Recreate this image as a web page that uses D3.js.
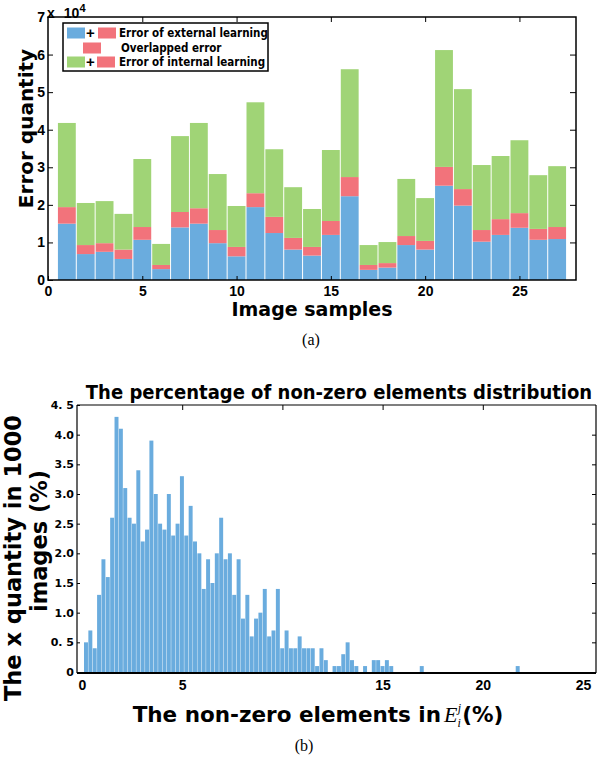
<!DOCTYPE html>
<html>
<head>
<meta charset="utf-8">
<script src="https://cdn.jsdelivr.net/npm/d3@7"></script>
<style>
  body { margin: 0; background: #fff; }
  svg { display: block; }
</style>
</head>
<body>
<svg id="fig" width="608" height="761"></svg>
<script>
'use strict'

// ---- (a) error quantity per image sample (stacked) ----
const samples = d3.range(1, 28)
const externalOnly = [15000, 6900, 7500, 5600, 10700, 2900, 14000, 15000, 9800, 6300, 19400, 12500, 8100, 6500,
  12000, 22300, 2700, 3300, 9300, 8100, 25100, 19800, 10200, 12000, 13900, 10700, 10900]
const overlapped = [4400, 2400, 2300, 2500, 3400, 1100, 4100, 4100, 3500, 2500, 3700, 4300, 3100, 2300,
  3700, 5100, 1300, 1200, 2400, 2300, 5000, 4400, 3100, 4200, 3900, 2900, 3200]
const internalOnly = [22400, 11200, 11200, 9500, 18100, 5600, 20200, 22700, 14900, 10900, 24200, 18000, 13500, 10100,
  18900, 28700, 5300, 5600, 15200, 11400, 31100, 26600, 17300, 16800, 19400, 14300, 16200]
const errTicks = [0, 10000, 20000, 30000, 40000, 50000, 60000, 70000]
const sampleTicks = [0, 5, 10, 15, 20, 25]

// ---- (b) histogram of non-zero percentage ----
const binStart = 0.1
const binWidth = 0.2176
const pctValues = [
  0.5, 0.7, 0.4, 1.3, 1.9, 1.6, 2.6, 4.3, 4.1, 3.1,
  2.6, 2.5, 3.4, 2.2, 2.4, 3.9, 3.0, 2.5, 2.4, 3.0,
  2.3, 2.5, 3.3, 2.3, 2.8, 2.2, 2.0, 1.4, 1.9, 1.5,
  2.0, 2.6, 1.9, 2.0, 1.3, 1.9, 0.9, 1.3, 0.6, 0.9,
  1.0, 1.4, 0.6, 0.7, 1.4, 0.4, 0.7, 0.4, 0.4, 0.6,
  0.4, 0.4, 0.4, 0.1, 0.4, 0.2, 0, 0.1, 0.1, 0.3,
  0.5, 0.2, 0.1, 0, 0.1, 0, 0.2, 0.2, 0.1, 0.2,
  0.1, 0, 0, 0, 0, 0, 0, 0.1, 0, 0,
  0, 0, 0, 0, 0, 0, 0, 0, 0, 0,
  0, 0, 0, 0, 0, 0, 0, 0, 0, 0.1]
const pctTicks = [0, 0.5, 1, 1.5, 2, 2.5, 3, 3.5, 4, 4.5]
const pctTickLabels = ['0', '0. 5', '1.0', '1.5', '2.0', '2.5', '3.0', '3.5', '4.0', '4. 5']
const nzTicks = [0, 5, 15, 20, 25]

const colors = { external: '#6aacde', overlap: '#f2737b', internal: '#a0d476' }
const boldSans = '"Liberation Sans", Arial, sans-serif'
const wideSans = '"DejaVu Sans", Verdana, sans-serif'
const condSans = '"DejaVu Sans Condensed", "DejaVu Sans", sans-serif'

const svg = d3.select('#fig')

// ================= chart (a) =================
let x = d3.scaleLinear().domain([0, 28]).range([48, 576])
let y = d3.scaleLinear().domain([0, 70000]).range([280, 17])

let rows = samples.map((s, i) => ({ sample: s, external: externalOnly[i], overlap: overlapped[i], internal: internalOnly[i] }))
let stacked = d3.stack().keys(['external', 'overlap', 'internal'])(rows)

let ga = svg.append('g')
ga.selectAll('g.layer')
  .data(stacked)
  .join('g')
  .attr('class', 'layer')
  .attr('fill', d => colors[d.key])
  .selectAll('rect')
  .data(d => d)
  .join('rect')
  .attr('x', d => x(d.data.sample - 0.5) + 0.5)
  .attr('width', x(1) - x(0) - 1)
  .attr('y', d => y(d[1]))
  .attr('height', d => y(d[0]) - y(d[1]))

// frame
ga.append('rect')
  .attr('x', x(0)).attr('y', y(70000))
  .attr('width', x(28) - x(0)).attr('height', y(0) - y(70000))
  .attr('fill', 'none').attr('stroke', '#000').attr('stroke-width', 1.5)

// bottom axis labels
let axA = ga.append('g').attr('transform', `translate(0,${y(0)})`)
  .call(d3.axisBottom(x).tickValues(sampleTicks).tickSizeInner(-4).tickSizeOuter(0).tickPadding(6))
axA.select('.domain').remove()
axA.selectAll('text').attr('font-family', boldSans).attr('font-weight', 'bold').attr('font-size', 14).attr('fill', '#000')
// top ticks
ga.append('g').attr('transform', `translate(0,${y(70000)})`)
  .call(d3.axisTop(x).tickValues(sampleTicks.slice(1)).tickSizeInner(-5).tickSizeOuter(0).tickFormat(''))
  .select('.domain').remove()

// left axis
let ayA = ga.append('g').attr('transform', `translate(${x(0)},0)`)
  .call(d3.axisLeft(y).tickValues(errTicks).tickSizeInner(-5).tickSizeOuter(0).tickPadding(3).tickFormat(d => d / 10000))
ayA.select('.domain').remove()
ayA.selectAll('text').attr('font-family', boldSans).attr('font-weight', 'bold').attr('font-size', 14).attr('fill', '#000')
ga.append('g').attr('transform', `translate(${x(28)},0)`)
  .call(d3.axisRight(y).tickValues(errTicks.slice(1, -1)).tickSizeInner(-6).tickSizeOuter(0).tickFormat(''))
  .select('.domain').remove()

// x 10^4 multiplier
let mult = ga.append('text').attr('x', x(0) - 1).attr('y', y(70000) + 1)
  .attr('font-family', boldSans).attr('font-weight', 'bold').attr('font-size', 14)
mult.append('tspan').text('x')
mult.append('tspan').attr('dx', 9).text('10')
mult.append('tspan').attr('dy', -6).attr('font-size', 11).text('4')

// axis titles
ga.append('text')
  .attr('transform', `translate(33,${(y(0) + y(70000)) / 2 - 20}) rotate(-90)`)
  .attr('text-anchor', 'middle')
  .attr('font-family', wideSans).attr('font-weight', 'bold').attr('font-size', 20)
  .text('Error quantity')
ga.append('text')
  .attr('x', 312).attr('y', 316)
  .attr('text-anchor', 'middle')
  .attr('font-family', wideSans).attr('font-weight', 'bold').attr('font-size', 19)
  .text('Image samples')

// legend
let leg = ga.append('g')
leg.append('rect').attr('x', 63).attr('y', 23).attr('width', 205).attr('height', 48)
  .attr('fill', '#fff').attr('stroke', '#000').attr('stroke-width', 1.5)
let legRows = [
  { sw: [['external', 67], ['overlap', 98]], label: 'Error of external learning', tx: 119, cy: 33 },
  { sw: [['overlap', 83]], label: 'Overlapped error', tx: 121, cy: 48 },
  { sw: [['internal', 67], ['overlap', 97]], label: 'Error of internal learning', tx: 119, cy: 62 }
]
legRows.forEach(r => {
  r.sw.forEach(s => {
    leg.append('rect').attr('x', s[1])
      .attr('y', r.cy - 5.5).attr('width', 18).attr('height', 11).attr('fill', colors[s[0]])
  })
  if (r.sw.length > 1) {
    leg.append('text').attr('x', 90.5).attr('y', r.cy + 5).attr('text-anchor', 'middle')
      .attr('font-family', boldSans).attr('font-weight', 'bold').attr('font-size', 15).text('+')
  }
  leg.append('text').attr('x', r.tx).attr('y', r.cy + 4)
    .attr('font-family', condSans).attr('font-weight', 'bold').attr('font-size', 11.5)
    .text(r.label)
})

svg.append('text').attr('x', 311).attr('y', 345).attr('text-anchor', 'middle')
  .attr('font-family', '"Liberation Serif", "Times New Roman", serif').attr('font-size', 16).text('(a)')

// ================= chart (b) =================
let xh = d3.scaleLinear().domain([0, 25]).range([82, 583])
let yh = d3.scaleLinear().domain([0, 4.5]).range([672, 405])

let bins = pctValues.map((v, i) => ({ x0: binStart + i * binWidth, v: v })).filter(d => d.v > 0)
let gb = svg.append('g')
gb.selectAll('rect.bin')
  .data(bins)
  .join('rect')
  .attr('class', 'bin')
  .attr('x', d => xh(d.x0))
  .attr('width', xh(binWidth) - xh(0) - 0.4)
  .attr('y', d => yh(d.v))
  .attr('height', d => yh(0) - yh(d.v))
  .attr('fill', colors.external)

// frame
let fL = 77, fR = 596
gb.append('line').attr('x1', fL).attr('x2', fR).attr('y1', yh(4.5)).attr('y2', yh(4.5)).attr('stroke', '#000').attr('stroke-width', 1.2)
gb.append('line').attr('x1', fL).attr('x2', fR).attr('y1', yh(0) + 1).attr('y2', yh(0) + 1).attr('stroke', '#000').attr('stroke-width', 2.2)
gb.append('line').attr('x1', fL).attr('x2', fL).attr('y1', yh(4.5)).attr('y2', yh(0) + 1).attr('stroke', '#000').attr('stroke-width', 1.2)
gb.append('line').attr('x1', fR).attr('x2', fR).attr('y1', yh(4.5)).attr('y2', yh(0) + 1).attr('stroke', '#000').attr('stroke-width', 1.2)

let axB = gb.append('g').attr('transform', `translate(0,${yh(0) + 2})`)
  .call(d3.axisBottom(xh).tickValues(nzTicks).tickSize(0).tickPadding(6))
axB.select('.domain').remove()
axB.selectAll('text').attr('font-family', boldSans).attr('font-weight', 'bold').attr('font-size', 14).attr('fill', '#000')
gb.append('g').attr('transform', `translate(0,${yh(4.5)})`)
  .call(d3.axisTop(xh).tickValues([5, 10, 15, 20]).tickSizeInner(-5).tickSizeOuter(0).tickFormat(''))
  .select('.domain').remove()

let ayB = gb.append('g').attr('transform', `translate(${fL},0)`)
  .call(d3.axisLeft(yh).tickValues(pctTicks).tickSizeInner(-3).tickSizeOuter(0).tickPadding(3)
    .tickFormat((d, i) => pctTickLabels[i]))
ayB.select('.domain').remove()
ayB.selectAll('text').attr('font-family', wideSans).attr('font-weight', 'bold').attr('font-size', 11).attr('fill', '#000')
gb.append('g').attr('transform', `translate(${fR},0)`)
  .call(d3.axisRight(yh).tickValues(pctTicks.slice(1, -1)).tickSizeInner(-4).tickSizeOuter(0).tickFormat(''))
  .select('.domain').remove()

gb.append('text').attr('x', 339).attr('y', 399).attr('text-anchor', 'middle')
  .attr('font-family', condSans).attr('font-weight', 'bold').attr('font-size', 20)
  .text('The percentage of non-zero elements distribution')

gb.append('text')
  .attr('transform', 'translate(21,558) rotate(-90)')
  .attr('text-anchor', 'middle')
  .attr('font-family', wideSans).attr('font-weight', 'bold').attr('font-size', 22.5)
  .text('The x quantity in 1000')
gb.append('text')
  .attr('transform', 'translate(47,541) rotate(-90)')
  .attr('text-anchor', 'middle')
  .attr('font-family', wideSans).attr('font-weight', 'bold').attr('font-size', 22.5)
  .text('images (%)')

let xl = gb.append('text').attr('x', 318).attr('y', 722).attr('text-anchor', 'middle')
  .attr('font-family', wideSans).attr('font-weight', 'bold').attr('font-size', 21.5)
xl.append('tspan').text('The non-zero elements in')
xl.append('tspan').attr('dx', 3).attr('font-family', '"Liberation Serif", serif').attr('font-style', 'italic')
  .attr('font-weight', 'normal').attr('font-size', 22).text('E')
xl.append('tspan').attr('dy', 5).attr('font-family', '"Liberation Serif", serif').attr('font-style', 'italic')
  .attr('font-weight', 'normal').attr('font-size', 12).text('i')
xl.append('tspan').attr('dx', -3).attr('dy', -15).attr('font-family', '"Liberation Serif", serif').attr('font-style', 'italic')
  .attr('font-weight', 'normal').attr('font-size', 12).text('j')
xl.append('tspan').attr('dy', 10).attr('dx', 1).text('(%)')

svg.append('text').attr('x', 304).attr('y', 751).attr('text-anchor', 'middle')
  .attr('font-family', '"Liberation Serif", "Times New Roman", serif').attr('font-size', 16).text('(b)')
</script>
</body>
</html>
